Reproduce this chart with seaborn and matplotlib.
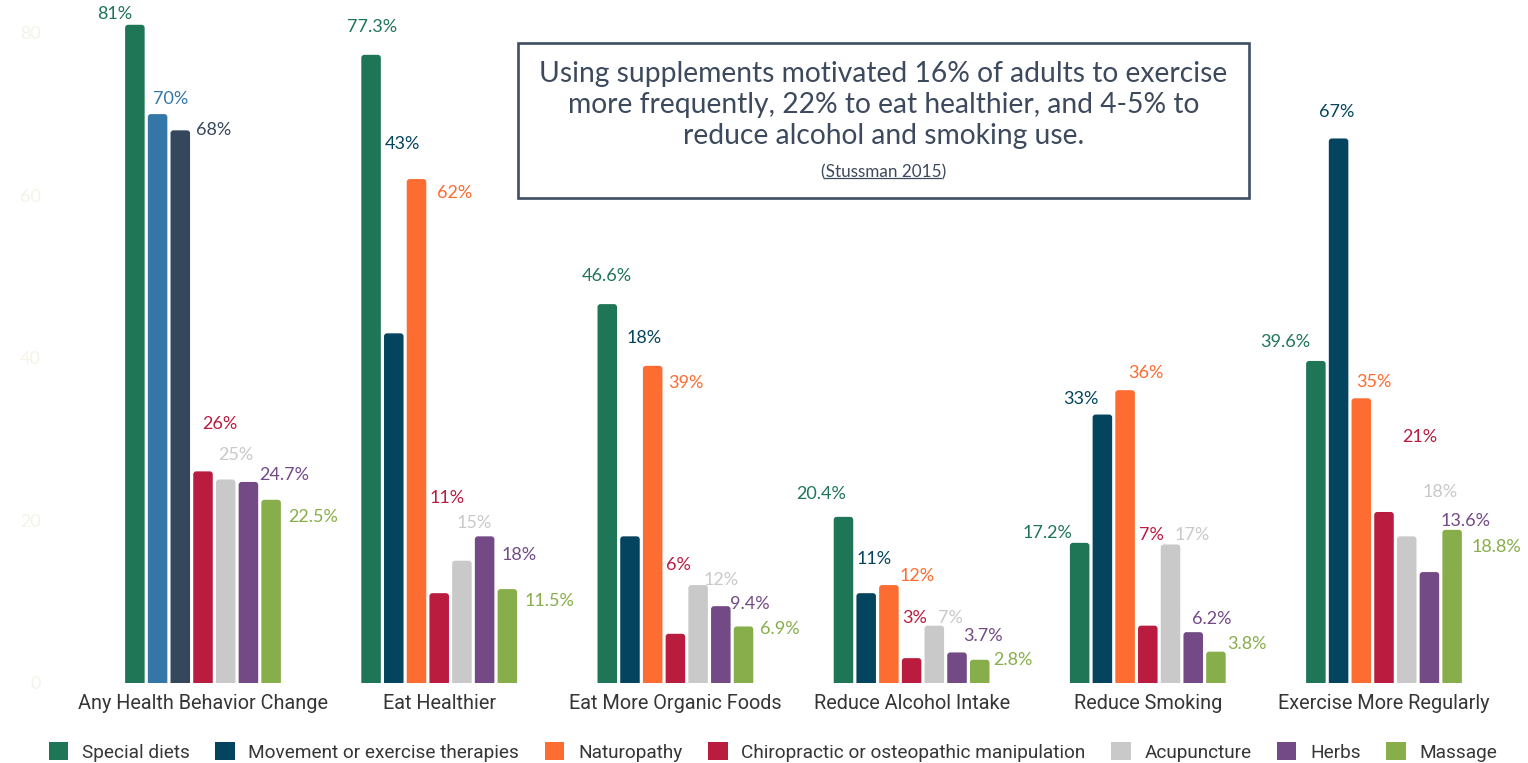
import matplotlib
matplotlib.use("Agg")
import matplotlib.pyplot as plt
from matplotlib.patches import FancyBboxPatch, Rectangle, Patch
import seaborn as sns
import pandas as pd

# ---- data -------------------------------------------------------------
categories = [
    "Any Health Behavior Change",
    "Eat Healthier",
    "Eat More Organic Foods",
    "Reduce Alcohol Intake",
    "Reduce Smoking",
    "Exercise More Regularly",
]
series = [
    "Special diets",
    "Movement or exercise therapies",
    "Naturopathy",
    "Chiropractic or osteopathic manipulation",
    "Acupuncture",
    "Herbs",
    "Massage",
]
special_diets = [81, 77.3, 46.6, 20.4, 17.2, 39.6]
movement = [70, 43, 18, 11, 33, 67]
naturopathy = [68, 62, 39, 12, 36, 35]
chiropractic = [26, 11, 6, 3, 7, 21]
acupuncture = [25, 15, 12, 7, 17, 18]
herbs = [24.7, 18, 9.4, 3.7, 6.2, 13.6]
massage = [22.5, 11.5, 6.9, 2.8, 3.8, 18.8]
y_ticks = [0, 20, 40, 60, 80]

# ---- styling ----------------------------------------------------------
colors = ["#1f7656", "#05445e", "#fd6c31", "#b91c3f", "#c9c9c9", "#734a86", "#87ae4a"]
# the first group shows two of its bars in alternate shades
first_group_colors = {1: "#3576a9", 2: "#34475c"}

# value-label offsets (pixels from each bar's top centre), per category
label_dx = [
    [-20, 13, 33, 17, 10, 36, 42],
    [1, 9, 38, 8, 12, 34, 42],
    [0, 14, 33, 3, 23, 29, 36],
    [-22, 8, 28, 3, 16, 26, 33],
    [-32, -22, 21, 4, 22, 19, 31],
    [-31, -2, 13, 36, 33, 36, 44],
]
label_dy = [
    [11, 15, 0, 47, 24, 7, -17],
    [28, 189, -14, 95, 38, -19, -12],
    [28, 198, -17, 69, 5, 2, -3],
    [23, 34, 9, 40, 8, 16, 0],
    [10, 16, 17, 91, 9, 13, 8],
    [19, 26, 16, 75, 44, 51, -17],
]

values = [special_diets, movement, naturopathy, chiropractic, acupuncture, herbs, massage]
rows = []
for s, vals in zip(series, values):
    for c, v in zip(categories, vals):
        rows.append({"category": c, "series": s, "value": v})
df = pd.DataFrame(rows)

sns.set_theme(style="white")
plt.rcParams["font.family"] = ["Lato", "DejaVu Sans"]

W, H = 1528, 763
fig = plt.figure(figsize=(W / 100, H / 100), dpi=100)
fig.patch.set_facecolor("white")

ax_left, ax_right, ax_bottom, ax_top = 52, 1520, 682.5, 5
ax = fig.add_axes([ax_left / W, 1 - ax_bottom / H,
                   (ax_right - ax_left) / W, (ax_bottom - ax_top) / H])

sns.barplot(data=df, x="category", y="value", hue="series",
            hue_order=series, order=categories,
            palette=dict(zip(series, colors)), width=0.673, gap=0.14,
            saturation=1, legend=False, ax=ax)

group_px = 236.2
first_px = 203
ax.set_xlim(-(first_px - ax_left) / group_px,
            len(categories) - 1 + (ax_right - (first_px + group_px * 5)) / group_px)
px_per_unit = 8.12
ax.set_ylim(0, (ax_bottom - ax_top) / px_per_unit)

for s in ax.spines.values():
    s.set_visible(False)
ax.set_xlabel("")
ax.set_ylabel("")
ax.set_yticks(y_ticks)
ax.tick_params(axis="y", length=0, pad=8, labelsize=13, labelcolor="#f5f3e7")
ax.tick_params(axis="x", length=0, pad=8, labelsize=14.3, labelcolor="#363636")
for t in ax.get_xticklabels():
    t.set_fontfamily("Roboto")
ax.grid(False)

# rebuild bars with softly rounded tops
p0 = ax.transData.transform((0, 0))
p1 = ax.transData.transform((1, 1))
ppx = p1[0] - p0[0]
ppy = p1[1] - p0[1]
r_px = 3.0
r = r_px / ppx
aspect = ppx / ppy
for si, cont in enumerate(ax.containers):
    for ci, bar in enumerate(cont.patches):
        x0, w, h = bar.get_x(), bar.get_width(), bar.get_height()
        col = colors[si]
        if ci == 0 and si in first_group_colors:
            col = first_group_colors[si]
        bar.remove()
        fb = FancyBboxPatch((x0, -r * aspect), w, h + r * aspect,
                            boxstyle=f"round,pad=0,rounding_size={r}",
                            mutation_aspect=aspect, fc=col, ec="none")
        ax.add_patch(fb)
        ax.annotate(f"{h:g}%", xy=(x0 + w / 2, h),
                    xytext=(label_dx[ci][si], label_dy[ci][si]),
                    textcoords="offset pixels", ha="center", va="center",
                    fontsize=13, color=col, annotation_clip=False)

# call-out box
box_l, box_r, box_t, box_b = 518, 1249, 43, 198
fig.add_artist(Rectangle((box_l / W, 1 - box_b / H), (box_r - box_l) / W,
                         (box_b - box_t) / H, transform=fig.transFigure,
                         fc="white", ec="#3e4e63", lw=1.9, zorder=5))
box_text = "#3d4a5d"
cx = (box_l + box_r) / 2 / W
lines = ["Using supplements motivated 16% of adults to exercise",
         "more frequently, 22% to eat healthier, and 4-5% to",
         "reduce alcohol and smoking use."]
for line, ypx in zip(lines, [74, 105, 136]):
    fig.text(cx, 1 - ypx / H, line, ha="center", va="center",
             fontsize=20.3, color=box_text, zorder=6)

cite_y = 1 - 172 / H
cite = fig.text(cx, cite_y, "(Stussman 2015)", ha="center", va="center",
                fontsize=12.3, color=box_text, zorder=6)
fig.canvas.draw()
rend = fig.canvas.get_renderer()
bb = cite.get_window_extent(rend)
paren = fig.text(0, 0, "(", fontsize=12.3)
pw = paren.get_window_extent(rend).width
paren.remove()
fig.add_artist(plt.Line2D([(bb.x0 + pw) / W, (bb.x1 - pw) / W],
                          [(bb.y0 + 2.5) / H, (bb.y0 + 2.5) / H],
                          transform=fig.transFigure, color=box_text, lw=0.9,
                          zorder=6))

# legend
handles = [Patch(facecolor=c, edgecolor="none") for c in colors]
leg = fig.legend(handles, series, loc="center", ncol=7,
                 bbox_to_anchor=(773 / W, 1 - 752 / H), frameon=False,
                 handlelength=1.03, handleheight=1.03, handletextpad=0.72,
                 columnspacing=1.34,
                 prop={"family": "Roboto", "size": 13.7})
for t in leg.get_texts():
    t.set_color("#363636")

fig.savefig("out.png", dpi=100, facecolor="white")
